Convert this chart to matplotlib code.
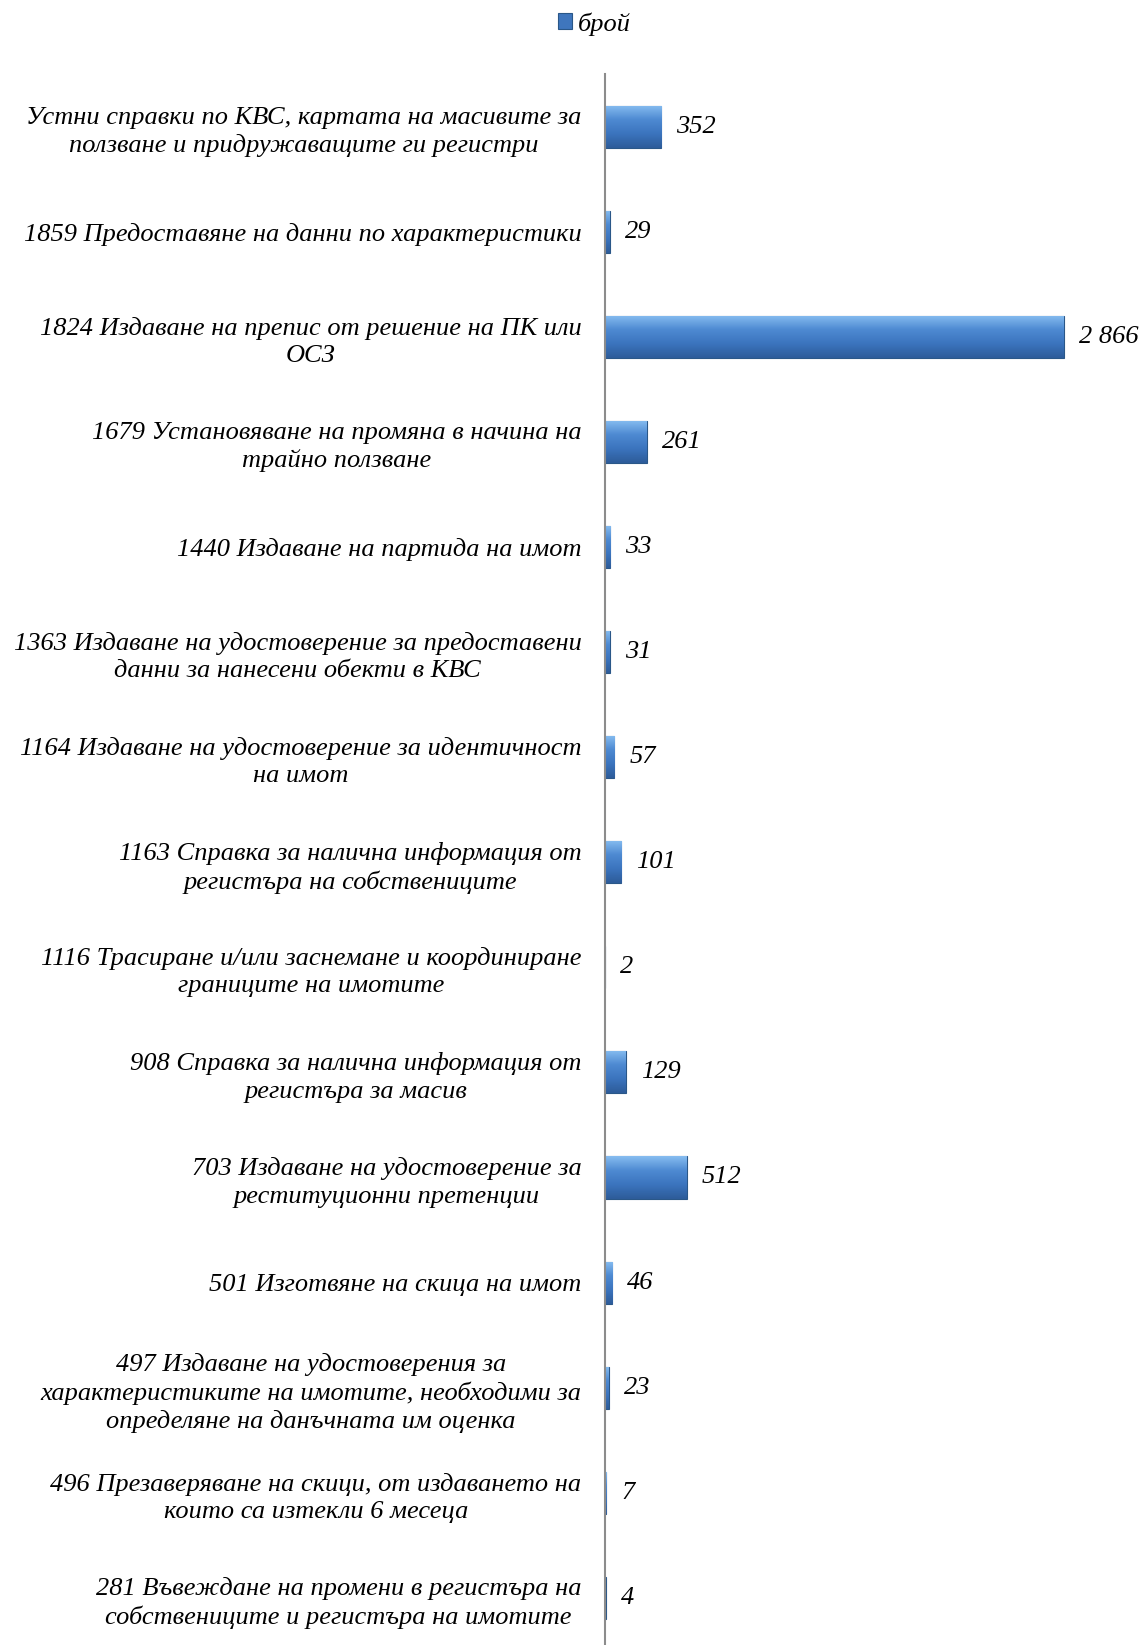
import numpy as np
import matplotlib.pyplot as plt
from matplotlib.colors import LinearSegmentedColormap

labels = [
    "Устни справки по КВС, картата на масивите за\nползване и придружаващите ги регистри",
    "1859 Предоставяне на данни по характеристики",
    "1824 Издаване на препис от решение на ПК или\nОСЗ",
    "1679 Установяване на промяна в начина на\nтрайно ползване",
    "1440 Издаване на партида на имот",
    "1363 Издаване на удостоверение за предоставени\nданни за нанесени обекти в КВС",
    "1164 Издаване на удостоверение за идентичност\nна имот",
    "1163 Справка за налична информация от\nрегистъра на собствениците",
    "1116 Трасиране и/или заснемане и координиране\nграниците на имотите",
    "908 Справка за налична информация от\nрегистъра за масив",
    "703 Издаване на удостоверение за\nреституционни претенции",
    "501 Изготвяне на скица на имот",
    "497 Издаване на удостоверения за\nхарактеристиките на имотите, необходими за\nопределяне на данъчната им оценка",
    "496 Презаверяване на скици, от издаването на\nкоито са изтекли 6 месеца",
    "281 Въвеждане на промени в регистъра на\nсобствениците и регистъра на имотите",
]
values = [352, 29, 2866, 261, 33, 31, 57, 101, 2, 129, 512, 46, 23, 7, 4]
series_name = "брой"

plt.rcParams['font.family'] = ['Liberation Serif', 'DejaVu Serif']

fig = plt.figure(figsize=(11.47, 16.45), dpi=100)
ax = fig.add_axes([0.5275, -0.0032, 0.4675, 0.958])

y = np.arange(len(values))
bar_h = 0.4
bars = ax.barh(y, values, height=bar_h, color='#3f76bd', edgecolor='#2a5788',
               linewidth=0.8, zorder=2)

# vertical gradient for the bevelled look
grad_cmap = LinearSegmentedColormap.from_list(
    'bev', ['#86bcf0', '#4e8ad2', '#3b74be', '#2d5c9a'])
grad = np.linspace(0, 1, 64).reshape(-1, 1)
for b in bars:
    x0, y0 = b.get_x(), b.get_y()
    w, h = b.get_width(), b.get_height()
    im = ax.imshow(grad, cmap=grad_cmap, aspect='auto', origin='upper',
                   extent=(x0, x0 + w, y0 + h, y0), zorder=2.5)
    im.set_clip_path(b)

for yi, v in zip(y, values):
    txt = f"{v:,}".replace(",", " ")
    ax.text(v + 3350 * 0.028, yi, txt, va='center', ha='left',
            fontsize=19, style='italic')

ax.set_xlim(0, 3350)
ax.set_ylim(len(values) - 0.5, -0.5)
ax.set_yticks(y)
ax.set_yticklabels(labels, fontsize=19, style='italic',
                   multialignment='center', linespacing=1.3)
ax.tick_params(axis='y', length=0, pad=17)
ax.set_xticks([])
for s in ['top', 'right', 'bottom']:
    ax.spines[s].set_visible(False)
ax.spines['left'].set_color('#8c8c8c')
ax.spines['left'].set_linewidth(1.5)

fig.legend([bars[0]], [series_name], loc='upper center',
           bbox_to_anchor=(0.518, 1.007), frameon=False, handlelength=0.55,
           handleheight=0.55, handletextpad=0.2, prop={'size': 19, 'style': 'italic'})

plt.savefig('out.png', dpi=100)
